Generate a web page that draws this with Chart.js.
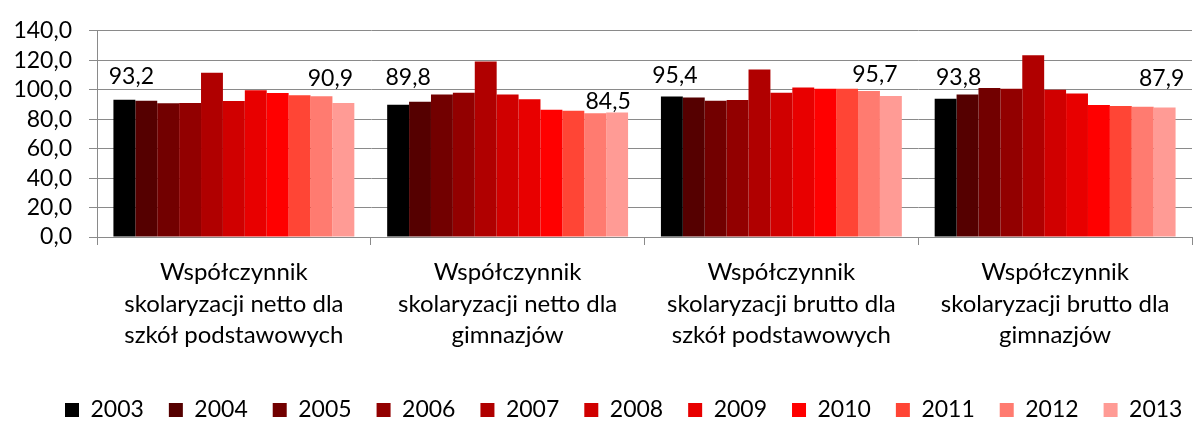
<!DOCTYPE html>
<html>
<head>
<meta charset="utf-8">
<script src="https://cdn.jsdelivr.net/npm/chart.js@4/dist/chart.umd.min.js"></script>
<style>
  html, body { margin: 0; padding: 0; background: #fff; }
  #wrap { width: 1195px; height: 421px; }
</style>
</head>
<body>
<div id="wrap"><canvas id="enrolment-chart" width="1195" height="421"></canvas></div>
<script>
// Categories (x axis, split into lines)
const categories = [
    ['Współczynnik', 'skolaryzacji netto dla', 'szkół podstawowych'],
    ['Współczynnik', 'skolaryzacji netto dla', 'gimnazjów'],
    ['Współczynnik', 'skolaryzacji brutto dla', 'szkół podstawowych'],
    ['Współczynnik', 'skolaryzacji brutto dla', 'gimnazjów']
];

const years = ['2003', '2004', '2005', '2006', '2007', '2008', '2009', '2010', '2011', '2012', '2013'];

// One array per year, values in category order
const rate2003 = [93.2, 89.8, 95.4, 93.8];
const rate2004 = [92.5, 91.9, 94.7, 96.7];
const rate2005 = [90.8, 96.7, 92.5, 101.1];
const rate2006 = [91.0, 98.0, 93.0, 100.6];
const rate2007 = [111.5, 119.2, 113.8, 123.4];
const rate2008 = [92.3, 96.7, 98.0, 100.0];
const rate2009 = [99.7, 93.6, 101.5, 97.4];
const rate2010 = [97.8, 86.4, 100.6, 89.7];
const rate2011 = [96.3, 85.8, 100.6, 89.0];
const rate2012 = [95.6, 84.0, 99.1, 88.4];
const rate2013 = [90.9, 84.5, 95.7, 87.9];

const yTicks = [0, 20, 40, 60, 80, 100, 120, 140];

const seriesValues = [rate2003, rate2004, rate2005, rate2006, rate2007, rate2008,
    rate2009, rate2010, rate2011, rate2012, rate2013];

const palette = ['#000000', '#550000', '#720000', '#920000', '#b00000', '#d00000',
    '#e80000', '#ff0000', '#ff4535', '#ff7b70', '#ff9b95'];

// value labels: dataset index, category index, text offset from the bar top
const valueLabels = [
    { ds: 0, cat: 0, dx: 7, dy: -23 },
    { ds: 10, cat: 0, dx: -13, dy: -25 },
    { ds: 0, cat: 1, dx: 10, dy: -27 },
    { ds: 10, cat: 1, dx: -9, dy: -11 },
    { ds: 0, cat: 2, dx: 3, dy: -21 },
    { ds: 10, cat: 2, dx: -16, dy: -21 },
    { ds: 0, cat: 3, dx: 13, dy: -21 },
    { ds: 10, cat: 3, dx: -3, dy: -29 }
];

const FONT = 'Lato';
const NUM_SIZE = 23;   // tick numbers, value labels, legend
const CAT_SIZE = 24;   // category names
const GRID = '#8a8a8a';
const fmt = v => v.toFixed(1).replace('.', ',');

const valueLabelPlugin = {
    id: 'valueLabels',
    afterDatasetsDraw(chart) {
        const ctx = chart.ctx;
        ctx.save();
        ctx.font = `${NUM_SIZE}px ${FONT}`;
        ctx.fillStyle = '#000';
        ctx.textAlign = 'center';
        ctx.textBaseline = 'middle';
        valueLabels.forEach(l => {
            const bar = chart.getDatasetMeta(l.ds).data[l.cat];
            const value = chart.data.datasets[l.ds].data[l.cat];
            ctx.fillText(fmt(value), bar.x + l.dx, bar.y + l.dy);
        });
        ctx.restore();
    }
};

// push the legend row a bit right and down
const legendPlacePlugin = {
    id: 'legendPlace',
    afterUpdate(chart) {
        const legend = chart.legend;
        if (!legend || !legend.legendHitBoxes || !legend.legendHitBoxes.length) return;
        const first = legend.legendHitBoxes[0];
        const dx = 65 - first.left;
        const dy = 410 - (first.top + first.height / 2);
        legend.left += dx;
        legend.right += dx;
        legend.top += dy;
        legend.bottom += dy;
        legend.adjustHitBoxes();
    }
};

const ctx = document.getElementById('enrolment-chart').getContext('2d');
const enrolmentChart = new Chart(ctx, {
    type: 'bar',
    data: {
        labels: categories,
        datasets: years.map((year, i) => ({
            label: year,
            data: seriesValues[i],
            backgroundColor: palette[i],
            borderWidth: 0,
            categoryPercentage: 0.88,
            barPercentage: 1.0
        }))
    },
    options: {
        responsive: false,
        animation: false,
        devicePixelRatio: 1,
        layout: { padding: { top: 23, right: 3, left: 0, bottom: 0 } },
        plugins: {
            tooltip: { enabled: false },
            legend: {
                position: 'bottom',
                labels: {
                    boxWidth: 14,
                    boxHeight: 14,
                    padding: 25,
                    color: '#000',
                    font: { family: FONT, size: NUM_SIZE }
                }
            }
        },
        scales: {
            x: {
                offset: true,
                grid: {
                    offset: true,
                    drawOnChartArea: false,
                    drawTicks: true,
                    tickLength: 8,
                    color: GRID
                },
                border: { color: GRID, width: 1 },
                ticks: {
                    color: '#000',
                    padding: 12,
                    maxRotation: 0,
                    autoSkip: false,
                    font: { family: FONT, size: CAT_SIZE, lineHeight: 1.3 }
                },
                afterFit(scale) {
                    const legendH = scale.chart.legend ? scale.chart.legend.height : 60;
                    scale.height = 421 - 237 - legendH;
                }
            },
            y: {
                min: 0,
                max: 140,
                afterBuildTicks(scale) {
                    scale.ticks = yTicks.map(v => ({ value: v }));
                },
                grid: {
                    color: GRID,
                    lineWidth: 1,
                    tickLength: 8
                },
                border: { color: GRID, width: 1 },
                ticks: {
                    color: '#000',
                    padding: 17,
                    autoSkip: false,
                    font: { family: FONT, size: NUM_SIZE },
                    callback: v => fmt(v)
                },
                afterFit(scale) {
                    scale.width = 97;
                }
            }
        }
    },
    plugins: [valueLabelPlugin, legendPlacePlugin]
});
</script>
</body>
</html>
